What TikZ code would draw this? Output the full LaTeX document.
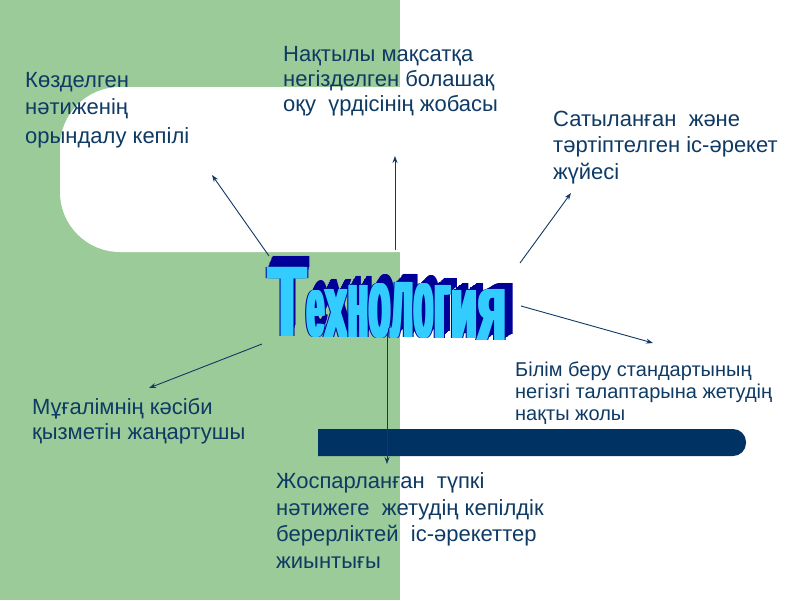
\documentclass[tikz,border=0pt]{standalone}
\usepackage{fontspec}
\usepackage{graphicx}
\setmainfont{Liberation Sans}
\usetikzlibrary{arrows.meta}
\definecolor{slidegreen}{HTML}{9BCB98}
\definecolor{navytext}{HTML}{0E3A64}
\definecolor{barblue}{HTML}{003363}
\definecolor{wordlight}{HTML}{33CCFF}
\definecolor{worddark}{HTML}{000099}
\begin{document}
\begin{tikzpicture}[x=1pt,y=-1pt,
  lbl/.style 2 args={anchor=base west, inner sep=0pt, align=left, text=navytext,
    font=\fontsize{#1}{#2}\selectfont},
  arr/.style={draw=navytext, line width=0.9pt, -{Stealth[length=7pt,width=5pt]}},
  wl/.style={anchor=base west, inner sep=0pt, font=\bfseries}]
\useasboundingbox (0,0) rectangle (800,600);
% background
\fill[slidegreen] (0,0) rectangle (400,600);
\fill[white, rounded corners=60pt] (60,87) rectangle (470,252);
\begin{scope}
  \clip (318,400) rectangle (800,480);
  \fill[barblue, rounded corners=13pt] (290,429) rectangle (746,456);
\end{scope}
% labels (anchored at the baseline of the last line)
\node[lbl={22}{27}] (k1) at (25,143) {Көзделген\\нәтиженің\\[2pt]орындалу кепілі};
\node[lbl={22}{25}] (k2) at (283,111) {Нақтылы мақсатқа\\негізделген болашақ\\оқу\ \ үрдісінің жобасы};
\node[lbl={22}{26.5}] (k3) at (553,179) {Сатыланған\ \ және\\тәртіптелген іс-әрекет\\жүйесі};
\node[lbl={20}{22}] (k4) at (515,420) {Білім беру стандартының\\негізгі талаптарына жетудің\\нақты жолы};
\node[lbl={22}{25}] (k5) at (32,439) {Мұғалімнің кәсіби\\қызметін жаңартушы};
\node[lbl={22}{26.5}] (k6) at (276,568) {Жоспарланған\ \ түпкі\\нәтижеге\ \ жетудің кепілдік\\берерліктей\ \ іс-әрекеттер\\жиынтығы};
% connectors
\coordinate (s1) at (269,256); \coordinate (e1) at (212,175);
\coordinate (s2) at (395,250); \coordinate (e2) at (395,156);
\coordinate (s3) at (520,263); \coordinate (e3) at (571,193);
\coordinate (s4) at (521,306); \coordinate (e4) at (653,343);
\coordinate (s5) at (262,344); \coordinate (e5) at (149,388);
\coordinate (s6) at (387,330); \coordinate (e6) at (387,464);
\draw[arr] (s1) -- (e1);
\draw[arr] (s2) -- (e2);
\draw[arr] (s3) -- (e3);
\draw[arr] (s4) -- (e4);
\draw[arr] (s5) -- (e5);
\draw[arr] (s6) -- (e6);
% word art
\foreach \ch/\xl/\xr/\yt/\yb/\dx/\dy
  [evaluate=\xr as \w using \xr-\xl-1, evaluate=\yb as \h using \yb-\yt, count=\i] in
  {Т/268/307/267/336/4/-11, е/307/325/290/336/5/-10, х/325/348/289/337/5/-10,
   н/348/369/285/337/6/-9, о/369/391/283/337/6/-9, л/391/414/282/337/7/-8,
   о/414/434/283/337/8/-8, г/434/451/285/338/8/-7, и/451/478/290/338/9/-7,
   я/478/507/289/340/10/-6}{
  \foreach \k in {1,...,10}{
    \node[wl, text=worddark] (wx\i-\k) at ({\xl+\dx*\k/10},{\yb+\dy*\k/10})
      {\resizebox{\w pt}{\h pt}{\ch}};
  }
  \foreach \ox/\oy [count=\j] in {-0.9/0, 4.9/0, 2/-0.9, 2/0.9}{
    \node[wl, text=worddark] (wo\i-\j) at ({\xl-2+\ox},{\yb+\oy})
      {\resizebox{\w pt}{\h pt}{\ch}};
  }
  \foreach \ox [count=\j] in {0,0.8,1.6,2.4,3.2,4}{
    \node[wl, text=wordlight] (wf\i-\j) at ({\xl-2+\ox},\yb)
      {\resizebox{\w pt}{\h pt}{\ch}};
  }
}
\end{tikzpicture}
\end{document}
